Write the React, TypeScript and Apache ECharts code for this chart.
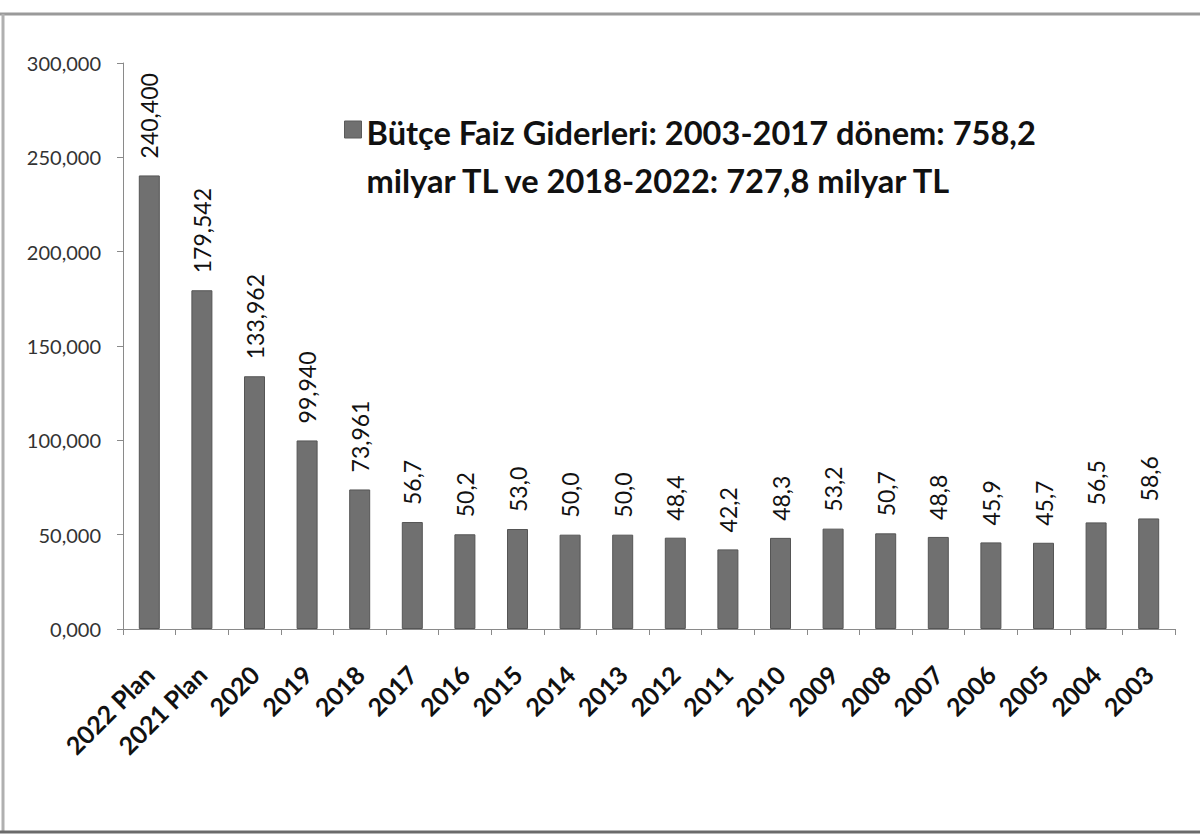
import React, { useEffect, useRef } from "react";
import * as echarts from "echarts";

const categories = [
  "2022 Plan", "2021 Plan", "2020", "2019", "2018", "2017", "2016", "2015", "2014", "2013",
  "2012", "2011", "2010", "2009", "2008", "2007", "2006", "2005", "2004", "2003",
];
const values = [
  240400, 179542, 133962, 99940, 73961, 56700, 50200, 53000, 50000, 50000,
  48400, 42200, 48300, 53200, 50700, 48800, 45900, 45700, 56500, 58600,
];
const valueLabels = [
  "240,400", "179,542", "133,962", "99,940", "73,961", "56,7", "50,2", "53,0", "50,0", "50,0",
  "48,4", "42,2", "48,3", "53,2", "50,7", "48,8", "45,9", "45,7", "56,5", "58,6",
];
const yTicks = [0, 50000, 100000, 150000, 200000, 250000, 300000];
const yTickLabels = ["0,000", "50,000", "100,000", "150,000", "200,000", "250,000", "300,000"];
const legendLines = [
  "Bütçe Faiz Giderleri: 2003-2017 dönem: 758,2",
  "milyar TL ve 2018-2022: 727,8 milyar TL",
];

const FONT = "Lato, 'Open Sans', sans-serif";

export default function App() {
  const ref = useRef<HTMLDivElement>(null);
  useEffect(() => {
    if (!ref.current) return;
    const chart = echarts.init(ref.current, null, { renderer: "svg" });
    chart.setOption({
      animation: false,
      backgroundColor: "#ffffff",
      textStyle: { fontFamily: FONT },
      graphic: [
        {
          type: "line",
          shape: { x1: 0, y1: 14, x2: 1200, y2: 14 },
          style: { stroke: "#9a9a9a", lineWidth: 3 },
          silent: true,
        },
        {
          type: "line",
          shape: { x1: 3, y1: 14, x2: 3, y2: 832 },
          style: { stroke: "#b0b0b0", lineWidth: 3 },
          silent: true,
        },
        {
          type: "line",
          shape: { x1: 0, y1: 832, x2: 1200, y2: 832 },
          style: { stroke: "#6a6a6a", lineWidth: 3 },
          silent: true,
        },
        {
          type: "group",
          left: 344,
          top: 108,
          children: [
            {
              type: "rect",
              shape: { x: 0, y: 13, width: 17, height: 17 },
              style: { fill: "#707070", stroke: "#5a5a5a", lineWidth: 1 },
            },
            {
              type: "text",
              x: 22,
              y: 0,
              style: {
                text: legendLines.join("\n"),
                font: `bold 32.6px ${FONT}`,
                fill: "#111",
                lineHeight: 48,
              },
            },
          ],
        },
      ],
      grid: { left: 123, right: 25, top: 63, bottom: 211, containLabel: false },
      xAxis: {
        type: "category",
        data: categories,
        axisLine: { lineStyle: { color: "#8a8a8a", width: 1 } },
        axisTick: { show: true, alignWithLabel: false, length: 6, lineStyle: { color: "#8a8a8a" } },
        axisLabel: {
          rotate: 45,
          interval: 0,
          margin: 41,
          fontFamily: FONT,
          fontSize: 25,
          fontWeight: "bold",
          color: "#111",
        },
      },
      yAxis: {
        type: "value",
        min: 0,
        max: 300000,
        interval: 50000,
        axisLine: { show: true, lineStyle: { color: "#8a8a8a", width: 1 } },
        axisTick: { show: true, length: 6, lineStyle: { color: "#8a8a8a" } },
        splitLine: { show: false },
        axisLabel: {
          margin: 22,
          fontFamily: FONT,
          fontSize: 20,
          color: "#333",
          formatter: (v: number) => {
            const i = yTicks.indexOf(v);
            return i >= 0 ? yTickLabels[i] : String(v);
          },
        },
      },
      series: [
        {
          name: "Bütçe Faiz Giderleri",
          type: "bar",
          data: values,
          barWidth: 21,
          itemStyle: { color: "#707070", borderColor: "#555555", borderWidth: 1 },
          label: {
            show: true,
            position: "top",
            rotate: 90,
            distance: 17,
            align: "left",
            verticalAlign: "middle",
            fontFamily: FONT,
            fontSize: 23,
            color: "#111",
            formatter: (p: any) => valueLabels[p.dataIndex],
          },
        },
      ],
    });
    return () => chart.dispose();
  }, []);
  return (
    <div
      ref={ref}
      style={{ position: "absolute", left: 0, top: 0, width: 1200, height: 840 }}
    />
  );
}
